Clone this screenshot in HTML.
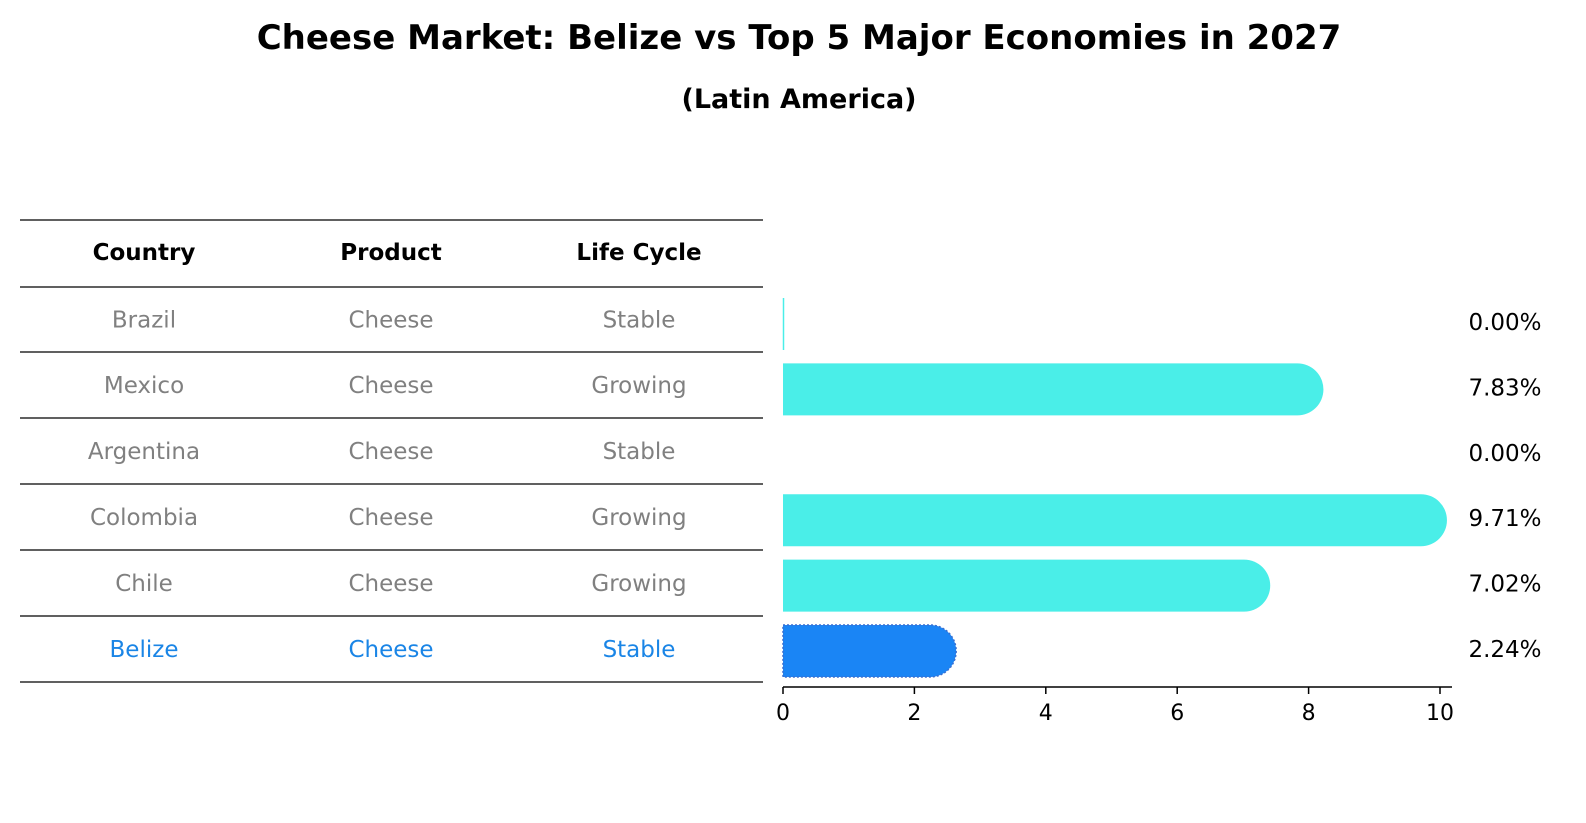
<!DOCTYPE html>
<html><head><meta charset="utf-8"><style>
body{margin:0;background:#fff;}
svg{display:block;font-family:"Liberation Sans","DejaVu Sans",sans-serif;}
</style></head><body>
<svg id="c" width="1586" height="823" xmlns="http://www.w3.org/2000/svg">
<text x="799" y="49" text-anchor="middle" font-size="34" font-weight="bold" font-family="DejaVu Sans, sans-serif">Cheese Market: Belize vs Top 5 Major Economies in 2027</text>
<text x="799" y="108" text-anchor="middle" font-size="27" font-weight="bold" font-family="DejaVu Sans, sans-serif">(Latin America)</text>
<g id="tbl"></g>
<g id="bars"></g>
</svg>
<script>
const countries=["Brazil","Mexico","Argentina","Colombia","Chile","Belize"];
const products=["Cheese","Cheese","Cheese","Cheese","Cheese","Cheese"];
const cycles=["Stable","Growing","Stable","Growing","Growing","Stable"];
const values=[0.00,7.83,0.00,9.71,7.02,2.24];
const ticks=[0,2,4,6,8,10];
const NS="http://www.w3.org/2000/svg";
function mk(p,t,a){const e=document.createElementNS(NS,t);for(const k in a)e.setAttribute(k,a[k]);p.appendChild(e);return e;}
const tbl=document.getElementById('tbl'),bars=document.getElementById('bars');
const F='DejaVu Sans, sans-serif';
// table
const lineY=[220,287,352,418,484,550,616,682];
lineY.forEach(y=>{const l=mk(tbl,'line',{x1:20,x2:763,y1:y,y2:y,stroke:'#000','stroke-width':1.2});

});
const colX=[144,391,639];
["Country","Product","Life Cycle"].forEach((h,i)=>{const t=mk(tbl,'text',{x:colX[i],y:260,'text-anchor':'middle','font-size':23,'font-weight':'bold','font-family':F});t.textContent=h;

});
countries.forEach((c,r)=>{const cy=(lineY[r+1]+lineY[r+2])/2+8;const col=c==="Belize"?'#1a85e6':'#808080';
[c,products[r],cycles[r]].forEach((v,i)=>{const t=mk(tbl,'text',{x:colX[i],y:cy,'text-anchor':'middle','font-size':23,fill:col,'font-family':F});t.textContent=v;

});});
// bars
const x0=783,sc=65.7;const X=v=>x0+v*sc;
const Y=i=>324+i*65.4;const bh=52,rad=26;
values.forEach((v,i)=>{const bel=countries[i]==="Belize";const fill=bel?'#1a85f5':'#4aeee8';const yc=Y(i);
if(v<=0){const l=mk(bars,'line',{x1:x0+0.5,x2:x0+0.5,y1:yc-bh/2,y2:yc+bh/2,stroke:fill,'stroke-width':1.5,opacity:i==2?0:1});

}
else{const w=X(v)-x0;const d=`M${x0},${yc-bh/2} H${x0+w} A${rad},${rad} 0 0 1 ${x0+w},${yc+bh/2} H${x0} Z`;
const p=mk(bars,'path',{d:d,fill:fill});if(bel){p.setAttribute('stroke','#3a6fd0');p.setAttribute('stroke-dasharray','2,2');p.setAttribute('stroke-width','1.5');}

}
const t=mk(bars,'text',{x:1505,y:yc+6,'text-anchor':'middle','font-size':23,'font-family':F});t.textContent=v.toFixed(2)+'%';

});
const ax=mk(bars,'line',{x1:x0,x2:1452,y1:687,y2:687,stroke:'#000','stroke-width':1.5});


ticks.forEach(t=>{const l=mk(bars,'line',{x1:X(t),x2:X(t),y1:687,y2:694,stroke:'#000','stroke-width':1.5});


const tx=mk(bars,'text',{x:X(t),y:720,'text-anchor':'middle','font-size':22,'font-family':F});tx.textContent=t;

});
</script>
</body></html>
